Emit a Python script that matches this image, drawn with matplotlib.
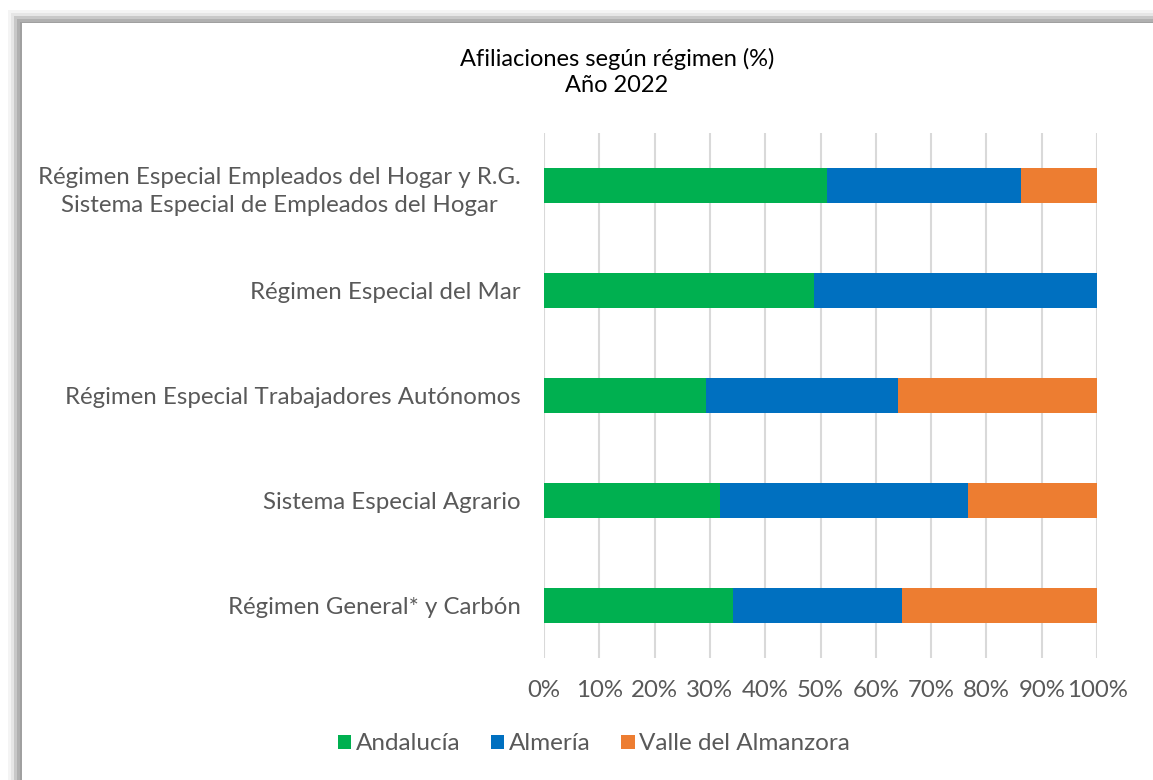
import numpy as np
import matplotlib.pyplot as plt
from matplotlib.patches import Rectangle

plt.rcParams['font.family'] = ['Lato', 'DejaVu Sans']

categorias = ['Régimen Especial Empleados del Hogar y R.G.\nSistema Especial de Empleados del Hogar',
              'Régimen Especial del Mar',
              'Régimen Especial Trabajadores Autónomos',
              'Sistema Especial Agrario',
              'Régimen General* y Carbón']
andalucia = [51.1, 48.8, 29.3, 31.8, 34.2]
almeria = [35.2, 51.2, 34.8, 44.8, 30.6]
valle = [13.7, 0.0, 35.9, 23.4, 35.2]
series = ['Andalucía', 'Almería', 'Valle del Almanzora']
colores = ['#00b050', '#0070c0', '#ed7d31']

W, H = 1153, 780
fig = plt.figure(figsize=(W / 100, H / 100), dpi=100)

# marco con sombra gris a la izquierda y arriba
for i, c in enumerate(['#f4f4f4', '#e6e6e6', '#c8c8c8', '#b0b0b0', '#a0a0a0']):
    x0 = 8 + i * 3
    y0 = 10 + i * 3
    fig.patches.append(Rectangle((x0 / W, 0), 1, 1 - y0 / H, transform=fig.transFigure,
                                 facecolor=c, edgecolor='none', zorder=-2))
fig.patches.append(Rectangle((22 / W, 0), 1, 1 - 23 / H, transform=fig.transFigure,
                             facecolor='white', edgecolor='none', zorder=-1))

ax = fig.add_axes([544 / W, 1 - 658 / H, (1097 - 544) / W, (658 - 133) / H])
ax.set_facecolor('none')

y = np.arange(len(categorias))
izq = np.zeros(len(categorias))
for vals, nombre, col in zip([andalucia, almeria, valle], series, colores):
    vals = np.array(vals)
    ax.barh(y, vals, left=izq, height=0.34, color=col, label=nombre, zorder=3)
    izq = izq + vals

ax.set_ylim(len(categorias) - 0.5, -0.5)
ax.set_xlim(0, 100)
ax.set_xticks(np.arange(0, 101, 10))
ax.set_xticklabels([f'{v}%' for v in range(0, 101, 10)])
ax.set_yticks(y)
ax.set_yticklabels(categorias, ha='right', multialignment='center', linespacing=1.45)
ax.grid(axis='x', color='#d9d9d9', linewidth=1.5, zorder=0)
for s in ax.spines.values():
    s.set_visible(False)
ax.tick_params(axis='both', length=0, labelsize=17.3, colors='#595959')
ax.tick_params(axis='x', pad=16)
ax.tick_params(axis='y', pad=16.5)

fig.text(617 / W, 1 - 72 / H, 'Afiliaciones según régimen (%)\nAño 2022', ha='center', va='center',
         fontsize=17, color='black', linespacing=1.25)

leg = fig.legend(loc='center', bbox_to_anchor=(594 / W, 1 - 744 / H), ncol=3, frameon=False,
                 fontsize=17.5, handlelength=0.55, handleheight=0.55, handletextpad=0.2,
                 columnspacing=1.25)
for t in leg.get_texts():
    t.set_color('#595959')

fig.savefig('out.png', dpi=100)
